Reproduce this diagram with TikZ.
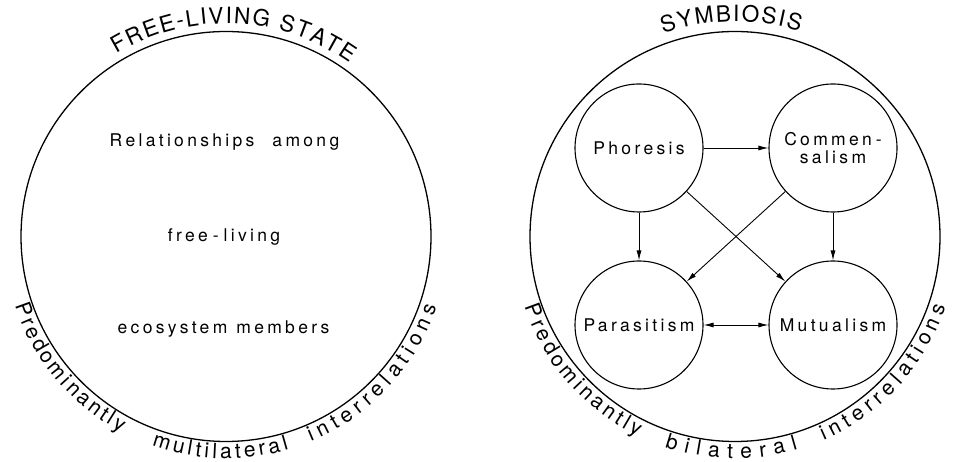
\documentclass[tikz,border=0pt]{standalone}
\usepackage{fontspec}
\setmainfont{TeX Gyre Heros}
\newfontfamily\trackfont[LetterSpace=19]{TeX Gyre Heros}
\usetikzlibrary{decorations.text,arrows.meta,calc}
\newcommand\mytitlefont{\fontsize{22.5}{22.5}\selectfont}
\newcommand\myarcfont{\fontsize{21}{21}\selectfont}
\newcommand\myinnerfont{\trackfont\fontsize{17.5}{18}\selectfont}
\begin{document}
\begin{tikzpicture}[x=1pt,y=1pt,
  bigc/.style={circle,draw,line width=1.3pt,minimum size=410pt,inner sep=0pt},
  subc/.style={circle,draw,line width=1.1pt,minimum size=128pt,inner sep=0pt,font=\myinnerfont,align=center},
  lbl/.style={font=\myinnerfont,inner sep=0pt},
  arr/.style={line width=0.9pt,-{Latex[length=10pt,width=5pt]}},
  dbl/.style={line width=0.9pt,{Latex[length=10pt,width=5pt]}-{Latex[length=10pt,width=5pt]}},
  arctext/.style={decorate,decoration={text along path,text align={fit to path},text={#1}}}]
\useasboundingbox (0,0) rectangle (957,462);

% left circle
\node[bigc] (L) at (226,225.5) {};
\node[lbl] (t1) at (224.5,320) {Relationships\hspace{18pt}among};
\node[lbl] (t2) at (224,225) {free\kern5pt-\kern5pt living};
\node[lbl] (t3) at (223.5,133) {ecosystem\hspace{9pt}members};

\path[arctext={|\mytitlefont|FREE-LIVING STATE}] ($(L)+(121:213)$) arc[start angle=121,end angle=54.5,radius=213];
\path[arctext={|\myarcfont|Predominantly}] ($(L)+(198:222)$) arc[start angle=198,end angle=241.8,radius=222];
\path[arctext={|\myarcfont|multilateral}] ($(L)+(250.5:222)$) arc[start angle=250.5,end angle=286.5,radius=222];
\path[arctext={|\myarcfont|interrelations}] ($(L)+(292.5:222)$) arc[start angle=292.5,end angle=341.5,radius=222];

% right circle
\node[bigc] (R) at (735,225.5) {};
\node[subc] (pho) at (639,314) {Phoresis};
\node[subc] (com) at (833,314) {Commen\kern4pt-\\salism};
\node[subc] (par) at (639,137) {Parasitism};
\node[subc] (mut) at (833,137) {Mutualism};

\draw[arr] (pho) -- (com);
\draw[arr] (pho) -- (par);
\draw[arr] (com) -- (mut);
\draw[arr] (pho) -- (mut);
\draw[arr] (com) -- (par);
\draw[dbl] (par) -- (mut);

\path[arctext={|\mytitlefont|SYMBIOSIS}] ($(R)+(109.5:215)$) arc[start angle=109.5,end angle=72.5,radius=215];
\path[arctext={|\myarcfont|Predominantly}] ($(R)+(198.5:222)$) arc[start angle=198.5,end angle=244,radius=222];
\path[arctext={|\myarcfont|bilateral}] ($(R)+(251.5:222)$) arc[start angle=251.5,end angle=286.5,radius=222];
\path[arctext={|\myarcfont|interrelations}] ($(R)+(293.5:222)$) arc[start angle=293.5,end angle=341.5,radius=222];
\end{tikzpicture}
\end{document}
